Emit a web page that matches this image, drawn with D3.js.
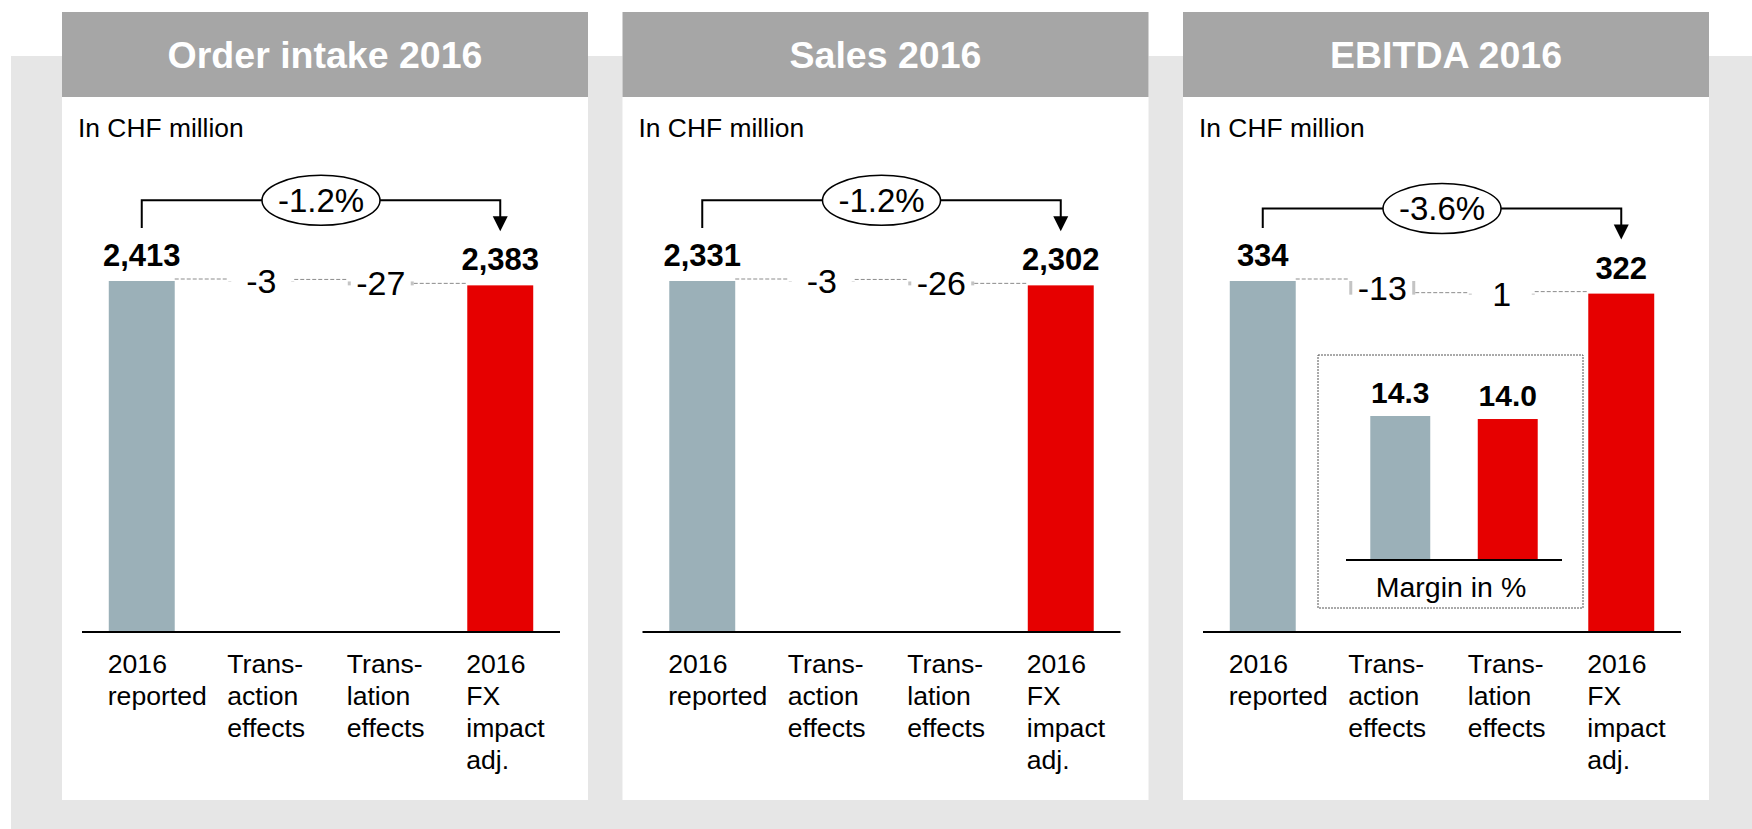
<!DOCTYPE html>
<html>
<head>
<meta charset="utf-8">
<script src="https://cdn.jsdelivr.net/npm/d3@7"></script>
<style>
  body { margin: 0; background: #ffffff; }
  svg { display: block; font-family: "Liberation Sans", Arial, sans-serif; }
</style>
</head>
<body>
<div id="chart"></div>
<script>
// chart values
const panelTitles = ["Order intake 2016", "Sales 2016", "EBITDA 2016"];
const unitLabel = "In CHF million";
const categories = [
  ["2016", "reported"],
  ["Trans-", "action", "effects"],
  ["Trans-", "lation", "effects"],
  ["2016", "FX", "impact", "adj."]
];
const reported = [2413, 2331, 334];
const transactionEffects = [-3, -3, -13];
const translationEffects = [-27, -26, 1];
const fxAdjusted = [2383, 2302, 322];
const changeLabels = ["-1.2%", "-1.2%", "-3.6%"];
const marginCategories = ["2016 reported", "2016 FX impact adj."];
const marginValues = [14.3, 14.0];
const marginLabel = "Margin in %";

const width = 1752;
const height = 829;
const panelW = 526;
const panelStep = 560.5;
const axisY = 632;
const barTop = 281;

const grey = "#9bb0b8";
const red = "#e60000";

const svg = d3
  .select("#chart")
  .append("svg")
  .attr("width", width)
  .attr("height", height);

// page background
svg.append("rect")
  .attr("x", 11).attr("y", 56)
  .attr("width", width - 11).attr("height", height - 56)
  .attr("fill", "#e6e6e6");

const fmtValue = d3.format(",");

panelTitles.forEach((title, p) => {
  const px = 62 + p * panelStep;
  const g = svg.append("g").attr("transform", `translate(${px},0)`);

  g.append("rect")
    .attr("x", 0).attr("y", 12)
    .attr("width", panelW).attr("height", 788)
    .attr("fill", "#ffffff");
  g.append("rect")
    .attr("x", 0).attr("y", 12)
    .attr("width", panelW).attr("height", 85)
    .attr("fill", "#a6a6a6");
  g.append("text")
    .attr("x", panelW / 2).attr("y", 68)
    .attr("text-anchor", "middle")
    .attr("font-size", 37.5).attr("font-weight", "bold")
    .attr("fill", "#ffffff")
    .text(title);
  g.append("text")
    .attr("x", 16).attr("y", 137)
    .attr("font-size", 26.4)
    .attr("fill", "#000")
    .text(unitLabel);

  // waterfall steps
  const t1 = reported[p] + transactionEffects[p];
  const t2 = t1 + translationEffects[p];
  const steps = [
    { start: 0, end: reported[p], kind: "total", color: grey },
    { start: reported[p], end: t1, kind: "delta", value: transactionEffects[p] },
    { start: t1, end: t2, kind: "delta", value: translationEffects[p] },
    { start: 0, end: fxAdjusted[p], kind: "total", color: red }
  ];

  const x = d3.scaleBand()
    .domain(d3.range(categories.length))
    .range([20, 498])
    .paddingInner(0.448)
    .paddingOuter(0.224);
  const bw = x.bandwidth();

  const y = d3.scaleLinear()
    .domain([0, reported[p]])
    .range([axisY, barTop]);

  // dashed connectors
  steps.slice(0, -1).forEach((s, i) => {
    g.append("line")
      .attr("x1", x(i) + bw).attr("x2", x(i + 1))
      .attr("y1", y(s.end) - 2).attr("y2", y(s.end) - 2)
      .attr("stroke", "#8c8c8c")
      .attr("stroke-width", 1)
      .attr("stroke-dasharray", "4,2");
  });

  // bars
  g.selectAll("rect.bar")
    .data(steps)
    .enter()
    .append("rect")
    .attr("class", "bar")
    .attr("x", (d, i) => x(i))
    .attr("width", bw)
    .attr("y", (d) => y(Math.max(d.start, d.end)))
    .attr("height", (d) => Math.max(0.5, Math.abs(y(d.start) - y(d.end))))
    .attr("fill", (d) => d.kind === "total" ? d.color : "#c4c4c4");

  // delta labels on white boxes
  const deltas = steps.map((d, i) => ({ ...d, i })).filter((d) => d.kind === "delta");
  deltas.forEach((d) => {
    const mid = (y(d.start) + y(d.end)) / 2;
    g.append("rect")
      .attr("x", x(d.i) + 3).attr("width", bw - 6)
      .attr("y", mid - 16).attr("height", 32)
      .attr("fill", "#ffffff");
    g.append("text")
      .attr("x", x(d.i) + bw / 2).attr("y", mid)
      .attr("dy", "0.35em")
      .attr("text-anchor", "middle")
      .attr("font-size", 34)
      .text(d.value);
  });

  // total labels
  steps.forEach((d, i) => {
    if (d.kind !== "total") return;
    g.append("text")
      .attr("x", x(i) + bw / 2).attr("y", y(d.end) - 15)
      .attr("text-anchor", "middle")
      .attr("font-size", 31).attr("font-weight", "bold")
      .text(fmtValue(d.end));
  });

  // axis line
  g.append("line")
    .attr("x1", 20).attr("x2", 498)
    .attr("y1", axisY).attr("y2", axisY)
    .attr("stroke", "#000").attr("stroke-width", 2);

  // category labels
  categories.forEach((lines, i) => {
    const t = g.append("text")
      .attr("font-size", 26.6)
      .attr("fill", "#000");
    lines.forEach((line, k) => {
      t.append("tspan")
        .attr("x", x(i) - 1)
        .attr("y", 673 + k * 32)
        .text(line);
    });
  });

  // change bracket
  const xl = x(0) + bw / 2;
  const xr = x(3) + bw / 2;
  const bracketY = y(fxAdjusted[p]) - 85;
  const leftEnd = y(reported[p]) - 53;
  const tip = y(fxAdjusted[p]) - 54;
  g.append("path")
    .attr("d", `M${xl},${leftEnd}V${bracketY}H${xr}V${tip - 14}`)
    .attr("fill", "none")
    .attr("stroke", "#000")
    .attr("stroke-width", 2);
  g.append("path")
    .attr("d", `M${xr - 7.5},${tip - 15}L${xr + 7.5},${tip - 15}L${xr},${tip}Z`)
    .attr("fill", "#000");
  g.append("ellipse")
    .attr("cx", (xl + xr) / 2).attr("cy", bracketY)
    .attr("rx", 59).attr("ry", 25)
    .attr("fill", "#fff")
    .attr("stroke", "#000")
    .attr("stroke-width", 1.5);
  g.append("text")
    .attr("x", (xl + xr) / 2).attr("y", bracketY)
    .attr("dy", "0.35em")
    .attr("text-anchor", "middle")
    .attr("font-size", 33)
    .text(changeLabels[p]);

  // margin inset on EBITDA panel
  if (p === 2) {
    const inset = g.append("g");
    inset.append("rect")
      .attr("x", 135).attr("y", 355)
      .attr("width", 265).attr("height", 253)
      .attr("fill", "#fff")
      .attr("stroke", "#555")
      .attr("stroke-width", 1)
      .attr("stroke-dasharray", "2,1");

    const mx = d3.scaleBand()
      .domain(marginCategories)
      .range([163, 379])
      .paddingInner(0.442)
      .paddingOuter(0.226);
    const my = d3.scaleLinear()
      .domain([0, marginValues[0]])
      .range([560, 416]);

    inset.selectAll("rect.mbar")
      .data(marginValues)
      .enter()
      .append("rect")
      .attr("class", "mbar")
      .attr("x", (d, i) => mx(marginCategories[i]))
      .attr("width", mx.bandwidth())
      .attr("y", (d) => my(d))
      .attr("height", (d) => my(0) - my(d))
      .attr("fill", (d, i) => (i === 0 ? grey : red));

    inset.selectAll("text.mval")
      .data(marginValues)
      .enter()
      .append("text")
      .attr("class", "mval")
      .attr("x", (d, i) => mx(marginCategories[i]) + mx.bandwidth() / 2)
      .attr("y", (d) => my(d) - 13)
      .attr("text-anchor", "middle")
      .attr("font-size", 30).attr("font-weight", "bold")
      .text((d) => d3.format(".1f")(d));

    inset.append("line")
      .attr("x1", 163).attr("x2", 379)
      .attr("y1", 560).attr("y2", 560)
      .attr("stroke", "#000").attr("stroke-width", 2);

    inset.append("text")
      .attr("x", 268).attr("y", 597)
      .attr("text-anchor", "middle")
      .attr("font-size", 28.5)
      .text(marginLabel);
  }
});
</script>
</body>
</html>
